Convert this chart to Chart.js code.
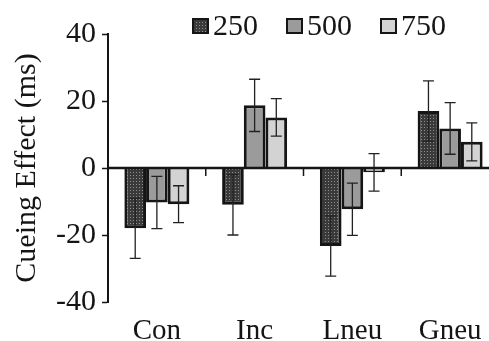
<!DOCTYPE html>
<html>
<head>
<meta charset="utf-8">
<script src="https://cdn.jsdelivr.net/npm/chart.js@4.4.1/dist/chart.umd.min.js"></script>
<style>
  html, body { margin: 0; padding: 0; background: #fff; overflow: hidden; }
  #wrap { position: relative; width: 500px; height: 341px; }
</style>
</head>
<body>
<div id="wrap"><canvas id="chart"></canvas></div>
<script>
// --- data ---
const categories = ["Con", "Inc", "Lneu", "Gneu"];
const seriesNames = ["250", "500", "750"];
const values250 = [-18, -11, -23.3, 17];
const values500 = [-10.3, 18.7, -12.3, 11.8];
const values750 = [-10.8, 15.1, -1.3, 7.8];
const errors250 = [9, 9, 9, 9];
const errors500 = [7.8, 7.8, 7.8, 7.7];
const errors750 = [5.5, 5.6, 5.6, 5.7];
const yTicks = [-40, -20, 0, 20, 40];

const FONT = "'Liberation Serif', 'Times New Roman', serif";
const INK = "#151515";

const canvas = document.getElementById("chart");

// dark bars have a fine dotted texture
function dottedPattern() {
  const c = document.createElement("canvas");
  c.width = 3;
  c.height = 3;
  const g = c.getContext("2d");
  g.fillStyle = "#3a3a3a";
  g.fillRect(0, 0, 3, 3);
  g.fillStyle = "#8e8e8e";
  g.fillRect(1, 1, 1, 1);
  return canvas.getContext("2d").createPattern(c, "repeat");
}

// error bars, drawn over the bars
const errorBars = {
  id: "errorBars",
  afterDatasetsDraw(chart) {
    const ctx = chart.ctx;
    const y = chart.scales.y;
    ctx.save();
    ctx.strokeStyle = "#222";
    ctx.lineWidth = 1.3;
    chart.data.datasets.forEach((ds, i) => {
      chart.getDatasetMeta(i).data.forEach((bar, j) => {
        const v = ds.data[j];
        const e = ds.errors[j];
        const x = bar.x;
        const yHi = y.getPixelForValue(v + e);
        const yLo = y.getPixelForValue(v - e);
        ctx.beginPath();
        ctx.moveTo(x, yHi);
        ctx.lineTo(x, yLo);
        ctx.moveTo(x - 5.5, yHi);
        ctx.lineTo(x + 5.5, yHi);
        ctx.moveTo(x - 5.5, yLo);
        ctx.lineTo(x + 5.5, yLo);
        ctx.stroke();
      });
    });
    ctx.restore();
  },
};

// x axis sits on the zero line, with ticks between the groups
const zeroAxis = {
  id: "zeroAxis",
  afterDatasetsDraw(chart) {
    const ctx = chart.ctx;
    const { left, right } = chart.chartArea;
    const xs = chart.scales.x;
    const y0 = chart.scales.y.getPixelForValue(0);
    ctx.save();
    ctx.strokeStyle = INK;
    ctx.lineWidth = 2.5;
    ctx.beginPath();
    ctx.moveTo(left, y0);
    ctx.lineTo(right + 10, y0);
    ctx.stroke();
    ctx.lineWidth = 1.5;
    const step = xs.getPixelForValue(1) - xs.getPixelForValue(0);
    for (let i = 0; i < categories.length; i++) {
      const bx = xs.getPixelForValue(i) + step / 2;
      ctx.beginPath();
      ctx.moveTo(bx, y0);
      ctx.lineTo(bx, y0 + 8);
      ctx.stroke();
    }
    ctx.restore();
  },
};

// legend: small bordered squares with the labels right next to them
const squareLegend = {
  id: "squareLegend",
  afterDraw(chart) {
    const ctx = chart.ctx;
    let x = chart.chartArea.left + 84;
    ctx.save();
    ctx.font = "30px " + FONT;
    ctx.textBaseline = "alphabetic";
    chart.data.datasets.forEach((ds) => {
      ctx.fillStyle = ds.backgroundColor;
      ctx.fillRect(x, 18, 17, 16);
      ctx.strokeStyle = INK;
      ctx.lineWidth = 2;
      ctx.strokeRect(x + 1, 19, 15, 14);
      ctx.fillStyle = INK;
      ctx.fillText(ds.label, x + 21, 35);
      x += 21 + ctx.measureText(ds.label).width + 28;
    });
    ctx.restore();
  },
};

const barStyle = {
  borderColor: INK,
  borderWidth: 3,
  categoryPercentage: 0.665,
  barPercentage: 1.0,
};

new Chart(canvas, {
  type: "bar",
  data: {
    labels: categories,
    datasets: [
      { label: seriesNames[0], data: values250, errors: errors250, backgroundColor: dottedPattern(), ...barStyle },
      { label: seriesNames[1], data: values500, errors: errors500, backgroundColor: "#9b9b9b", ...barStyle },
      { label: seriesNames[2], data: values750, errors: errors750, backgroundColor: "#d3d3d3", ...barStyle },
    ],
  },
  options: {
    responsive: true,
    maintainAspectRatio: false,
    animation: false,
    layout: { padding: { top: 34, right: 1, left: 0, bottom: 0 } },
    plugins: {
      legend: { display: false },
      tooltip: { enabled: false },
    },
    scales: {
      x: {
        grid: { display: false, drawTicks: false },
        border: { display: false },
        ticks: { font: { family: FONT, size: 29 }, color: INK, padding: 12 },
        afterFit: (s) => { s.height = 39; },
      },
      y: {
        min: -40,
        max: 40,
        afterBuildTicks: (s) => { s.ticks = yTicks.map((v) => ({ value: v })); },
        ticks: { font: { family: FONT, size: 30 }, color: INK, padding: 6 },
        grid: { drawOnChartArea: false, tickLength: 6, tickColor: INK, tickWidth: 1.5 },
        border: { color: INK, width: 2 },
        title: {
          display: true,
          text: "Cueing Effect (ms)",
          font: { family: FONT, size: 30 },
          color: INK,
          padding: { top: 9, bottom: 0 },
        },
        afterFit: (s) => { s.width = 108; },
      },
    },
  },
  plugins: [errorBars, zeroAxis, squareLegend],
});
</script>
</body>
</html>
